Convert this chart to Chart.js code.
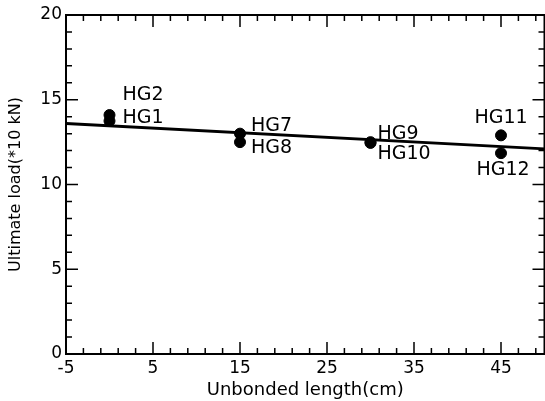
<!DOCTYPE html>
<html>
<head>
<meta charset="utf-8">
<script src="https://cdn.jsdelivr.net/npm/chart.js@4"></script>
<style>
  html, body { margin: 0; padding: 0; background: #fff; overflow: hidden; }
  #wrap { width: 551px; height: 401px; }
</style>
</head>
<body>
<div id="wrap"><canvas id="loadChart"></canvas></div>
<script>
// specimen data
var specimens = ['HG1', 'HG2', 'HG7', 'HG8', 'HG9', 'HG10', 'HG11', 'HG12'];
var unbondedLength = [0, 0, 15, 15, 30, 30, 45, 45];
var ultimateLoad = [13.75, 14.1, 13.0, 12.5, 12.45, 12.5, 12.9, 11.85];

// fitted trend line
var fitX = [-5, 50];
var fitY = [13.6, 12.1];

// axis ticks
var xTicks = [-5, 5, 15, 25, 35, 45];
var yTicks = [0, 5, 10, 15, 20];

// label placement relative to each point (px)
var labelOffsets = {
  HG1: [13, -3, 'left'], HG2: [13, -20, 'left'],
  HG7: [11, -8, 'left'], HG8: [11, 6, 'left'],
  HG9: [7, -9, 'left'], HG10: [7, 12, 'left'],
  HG11: [0, -17, 'center'], HG12: [2, 17, 'center']
};

var points = unbondedLength.map(function (x, i) { return { x: x, y: ultimateLoad[i] }; });
var fitLine = fitX.map(function (x, i) { return { x: x, y: fitY[i] }; });

var frameTicks = {
  id: 'frameTicks',
  afterDatasetsDraw: function (chart) {
    var ctx = chart.ctx, a = chart.chartArea;
    var xs = chart.scales.x, ys = chart.scales.y;
    ctx.save();
    ctx.strokeStyle = '#000';
    ctx.lineWidth = 2;
    ctx.strokeRect(a.left, a.top, a.right - a.left, a.bottom - a.top);
    ctx.lineWidth = 1.5;
    ctx.beginPath();
    for (var v = -5; v <= 50; v += 2) {
      var len = xTicks.indexOf(v) >= 0 ? 12 : 6;
      var px = xs.getPixelForValue(v);
      ctx.moveTo(px, a.bottom); ctx.lineTo(px, a.bottom - len);
      ctx.moveTo(px, a.top); ctx.lineTo(px, a.top + len);
    }
    for (var w = 0; w <= 20; w += 1) {
      var l2 = yTicks.indexOf(w) >= 0 ? 12 : 6;
      var py = ys.getPixelForValue(w);
      ctx.moveTo(a.left, py); ctx.lineTo(a.left + l2, py);
      ctx.moveTo(a.right, py); ctx.lineTo(a.right - l2, py);
    }
    ctx.stroke();

    // specimen labels
    ctx.fillStyle = '#000';
    ctx.font = '19px "DejaVu Sans"';
    ctx.textBaseline = 'middle';
    specimens.forEach(function (name, i) {
      var off = labelOffsets[name];
      ctx.textAlign = off[2];
      ctx.fillText(name, xs.getPixelForValue(unbondedLength[i]) + off[0],
        ys.getPixelForValue(ultimateLoad[i]) + off[1]);
    });
    ctx.restore();
  }
};

var ctx = document.getElementById('loadChart').getContext('2d');
var chart = new Chart(ctx, {
  type: 'scatter',
  data: {
    datasets: [{
      label: 'Fit',
      type: 'line',
      data: fitLine,
      borderColor: '#000',
      borderWidth: 2.8,
      pointRadius: 0,
      fill: false
    }, {
      label: 'Specimens',
      data: points,
      backgroundColor: '#000',
      borderColor: '#000',
      pointRadius: 5.5
    }]
  },
  options: {
    responsive: true,
    maintainAspectRatio: false,
    animation: false,
    layout: { padding: { top: 15, right: 0, left: 0, bottom: 0 } },
    plugins: { legend: { display: false }, tooltip: { enabled: false } },
    scales: {
      x: {
        type: 'linear',
        min: -5,
        max: 50,
        grid: { display: false, drawTicks: false },
        border: { display: false },
        afterBuildTicks: function (s) { s.ticks = xTicks.map(function (v) { return { value: v }; }); },
        afterFit: function (s) { s.height = 47; s.paddingLeft = 0; s.paddingRight = 0; },
        ticks: { color: '#000', padding: 4, font: { family: 'DejaVu Sans', size: 17 }, maxRotation: 0 },
        title: {
          display: true,
          text: 'Unbonded length(cm)',
          color: '#000',
          font: { family: 'DejaVu Sans', size: 18 },
          padding: { top: 3, bottom: 0 }
        }
      },
      y: {
        min: 0,
        max: 20,
        grid: { display: false, drawTicks: false },
        border: { display: false },
        afterBuildTicks: function (s) { s.ticks = yTicks.map(function (v) { return { value: v }; }); },
        afterFit: function (s) { s.width = 66; },
        ticks: { color: '#000', padding: 4, font: { family: 'DejaVu Sans', size: 17 } },
        title: {
          display: true,
          text: 'Ultimate load(*10 kN)',
          color: '#000',
          font: { family: 'DejaVu Sans', size: 16 },
          padding: { top: 6, bottom: 0 }
        }
      }
    }
  },
  plugins: [frameTicks]
});
</script>
</body>
</html>
